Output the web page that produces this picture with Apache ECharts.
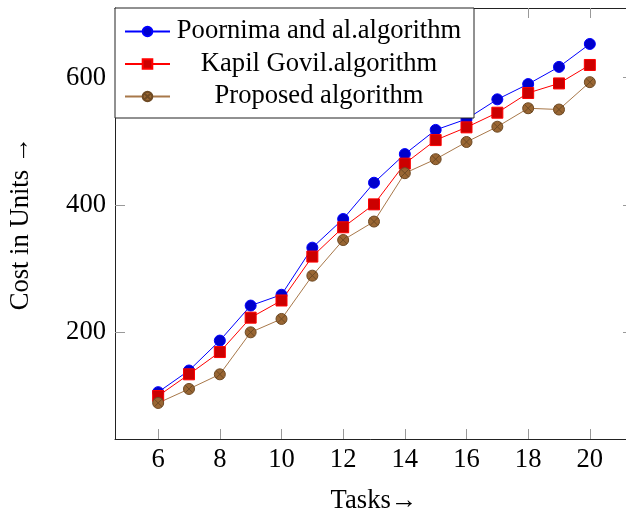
<!DOCTYPE html>
<html><head><meta charset="utf-8">
<script src="https://cdn.jsdelivr.net/npm/echarts@6/dist/echarts.min.js"></script>
<style>html,body{margin:0;padding:0;background:#fff}#c{width:626px;height:514px}</style>
</head><body><div id="c"></div>
<script>
const tasks = [6,7,8,9,10,11,12,13,14,15,16,17,18,19,20];
const poornima = [106,140,187,242,259,333,378,435,480,518,535,566,590,617,653];
const kapil = [100,134,169,223,250,319,365,401,465,502,522,545,576,591,620];
const proposed = [89,111,134,200,221,289,345,374,450,472,499,523,552,550,593];
const xTicks = [6,8,10,12,14,16,18,20];
const yTicks = [200,400,600];
const names = ['Poornima and al.algorithm','Kapil Govil.algorithm','Proposed algorithm'];

const font = 'Liberation Serif, Times New Roman, serif';
const fs = 26.6;
const pair = a => tasks.map((t,i)=>[t,a[i]]);
const otimes = 'path://M0,-10A10,10 0 1,1 0,10A10,10 0 1,1 0,-10Z M-7.07,-7.07L7.07,7.07 M7.07,-7.07L-7.07,7.07';

function xAx(pos, labels){
  return {type:'value', position:pos, min:4.6, max:21.4,
    axisLine:{show:true,onZero:false,lineStyle:{color:'#222',width:1}},
    axisTick:{show:true,inside:true,length:10,customValues:xTicks,lineStyle:{color:'#999'}},
    axisLabel:{show:labels,customValues:xTicks,color:'#000',fontFamily:font,fontSize:fs,margin:8},
    splitLine:{show:false},
    name: labels?'Tasks→':'', nameLocation:'middle', nameGap:49,
    nameTextStyle:{color:'#000',fontFamily:font,fontSize:fs}};
}
function yAx(pos, labels){
  return {type:'value', position:pos, min:32.4, max:709.5,
    axisLine:{show:true,onZero:false,lineStyle:{color:'#222',width:1}},
    axisTick:{show:true,inside:true,length:10,customValues:yTicks,lineStyle:{color:'#999'}},
    axisLabel:{show:labels,customValues:yTicks,color:'#000',fontFamily:font,fontSize:fs,margin:9},
    splitLine:{show:false},
    name: labels?'Cost in Units →':'', nameLocation:'middle', nameGap:80, nameRotate:90,
    nameTextStyle:{color:'#000',fontFamily:font,fontSize:fs}};
}

const chart = echarts.init(document.getElementById('c'));
chart.setOption({
  animation:false,
  backgroundColor:'#fff',
  grid:{left:115, top:8, width:518, height:431, containLabel:false, outerBoundsMode:'none'},
  xAxis:[xAx('bottom',true), xAx('top',false)],
  yAxis:[yAx('left',true), yAx('right',false)],
  legend:{
    orient:'vertical', left:115, top:8,
    padding:[10,11,8,9], itemGap:5.5,
    itemWidth:45, itemHeight:12, itemTextGap:5,
    backgroundColor:'#fff', borderColor:'#222', borderWidth:1, borderRadius:0,
    data:names,
    formatter: n => '{a|'+n+'}',
    textStyle:{fontFamily:font,fontSize:fs,color:'#000',lineHeight:22,
      rich:{a:{width:288,align:'center',fontFamily:font,fontSize:fs,color:'#000',lineHeight:22}}}
  },
  series:[
    {name:names[0], type:'line', data:pair(poornima), symbol:'circle', symbolSize:11,
     lineStyle:{color:'#0000ff',width:1}, itemStyle:{color:'#0000cc',borderColor:'#0000ff',borderWidth:1}},
    {name:names[1], type:'line', data:pair(kapil), symbol:'rect', symbolSize:11,
     lineStyle:{color:'#ff0000',width:1}, itemStyle:{color:'#cc0000',borderColor:'#ff0000',borderWidth:1}},
    {name:names[2], type:'line', data:pair(proposed), symbol:otimes, symbolSize:11,
     lineStyle:{color:'#a8784a',width:1}, itemStyle:{color:'#996633',borderColor:'#6e4a24',borderWidth:1}}
  ]
});
</script></body></html>
